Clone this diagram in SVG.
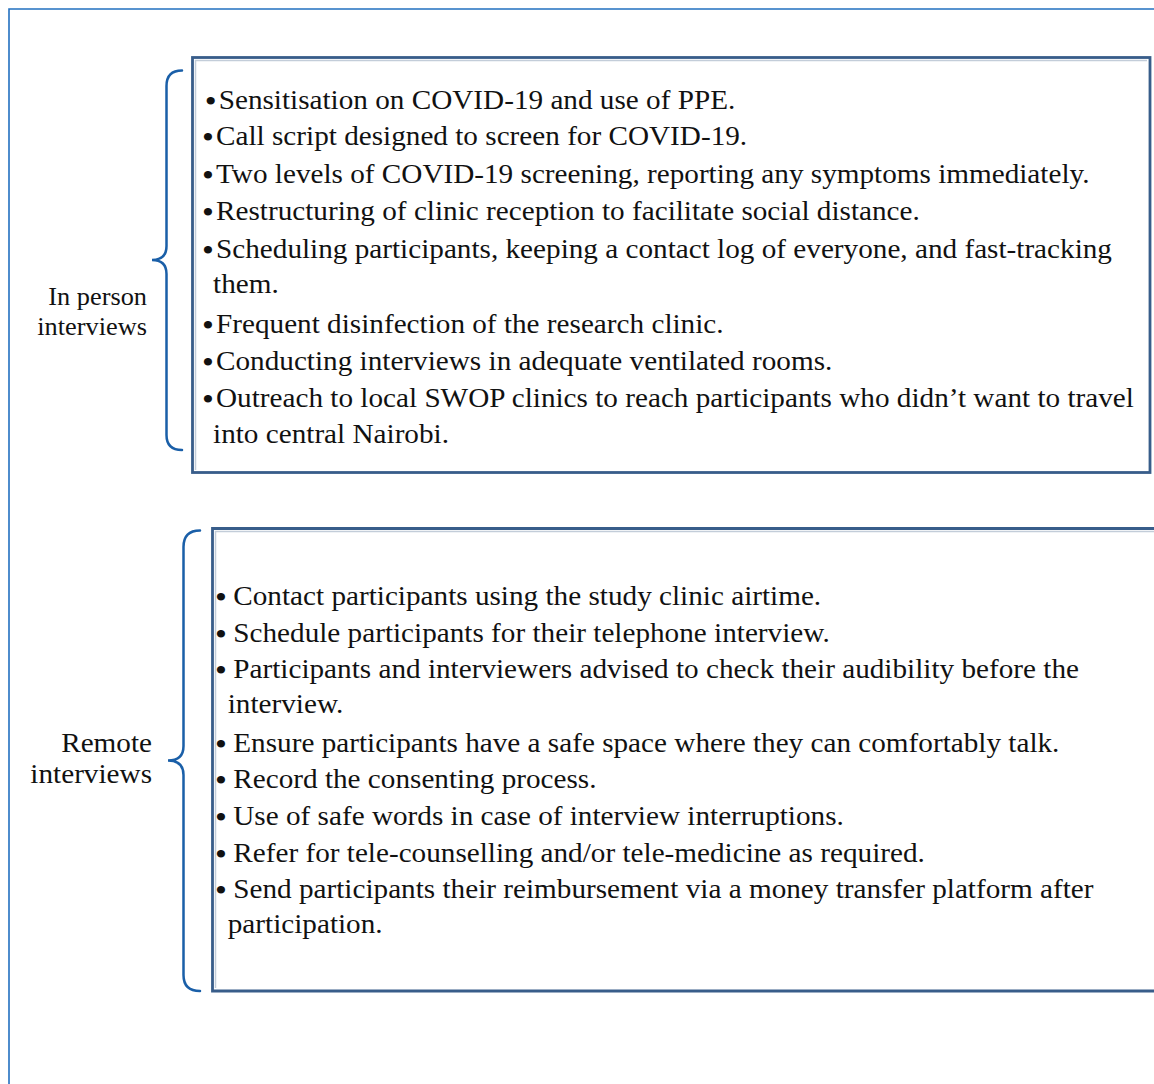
<svg xmlns="http://www.w3.org/2000/svg" width="1154" height="1084" viewBox="0 0 1154 1084">
<style>
.t{font-family:"Liberation Serif","Times New Roman",serif;font-size:27.5px;fill:#111}
.ts{font-family:"Liberation Serif","Times New Roman",serif;font-size:24.8px;fill:#111}
.b{font-size:32px}
.box{fill:#fff;stroke:#385d8a;stroke-width:2.8}
.inner{fill:none;stroke:#c3cdd9;stroke-width:1.5}
.brace{fill:none;stroke:#1a5fa8;stroke-width:2.5;stroke-linecap:round}
</style>
<rect width="1154" height="1084" fill="#fff"/>
<g id="frame">
<path d="M9 1084 V9 H1154" fill="none" stroke="#2270c0" stroke-width="1.6"/>
</g>
<g id="connectors">
<path class="brace" d="M182 70.5 Q166.5 70.5 166.5 86 L166.5 246 Q166.5 260 152 260 Q166.5 260 166.5 274 L166.5 435 Q166.5 450 182 450"/>
<path class="brace" d="M200 530.5 Q183.5 530.5 183.5 547 L183.5 746 Q183.5 760.5 168 760.5 Q183.5 760.5 183.5 775 L183.5 975 Q183.5 991 200 991"/>
</g>
<g id="in-person-label">
<g transform="translate(147,0) scale(1.062,1)">
<text class="ts" x="0" y="305" text-anchor="end">In person</text>
<text class="ts" x="0" y="335" text-anchor="end">interviews</text>
</g>
</g>
<g id="remote-label">
<g transform="translate(152,0) scale(1.062,1)">
<text class="t" x="0" y="752" text-anchor="end">Remote</text>
<text class="t" x="0" y="783" text-anchor="end">interviews</text>
</g>
</g>
<g id="in-person-box">
<rect class="box" x="192.5" y="57.5" width="957.5" height="415"/>
<path class="inner" d="M195.5 470 V60.5 H1147"/>
<g transform="translate(202,0) scale(1.062,1)">
<text class="t" x="2.5" y="109"><tspan class="b" dy="3">•</tspan><tspan dy="-3" dx="2">Sensitisation on COVID-19 and use of PPE.</tspan></text>
<text class="t" x="0" y="145"><tspan class="b" dy="3">•</tspan><tspan dy="-3" dx="2">Call script designed to screen for COVID-19.</tspan></text>
<text class="t" x="0" y="183"><tspan class="b" dy="3">•</tspan><tspan dy="-3" dx="2">Two levels of COVID-19 screening, reporting any symptoms immediately.</tspan></text>
<text class="t" x="0" y="220"><tspan class="b" dy="3">•</tspan><tspan dy="-3" dx="2">Restructuring of clinic reception to facilitate social distance.</tspan></text>
<text class="t" x="0" y="258"><tspan class="b" dy="3">•</tspan><tspan dy="-3" dx="2">Scheduling participants, keeping a contact log of everyone, and fast-tracking</tspan></text>
<text class="t" x="10.4" y="293">them.</text>
<text class="t" x="0" y="333"><tspan class="b" dy="3">•</tspan><tspan dy="-3" dx="2">Frequent disinfection of the research clinic.</tspan></text>
<text class="t" x="0" y="370"><tspan class="b" dy="3">•</tspan><tspan dy="-3" dx="2">Conducting interviews in adequate ventilated rooms.</tspan></text>
<text class="t" x="0" y="407"><tspan class="b" dy="3">•</tspan><tspan dy="-3" dx="2">Outreach to local SWOP clinics to reach participants who didn’t want to travel</tspan></text>
<text class="t" x="10.4" y="443">into central Nairobi.</text>
</g>
</g>
<g id="remote-box">
<path class="box" d="M1160 528.5 H212.5 V991 H1160"/>
<path class="inner" d="M215.5 988 V531.5 H1160"/>
<g transform="translate(215,0) scale(1.062,1)">
<text class="t" x="0" y="605"><tspan class="b" dy="3">•</tspan><tspan dy="-3" dx="6">Contact participants using the study clinic airtime.</tspan></text>
<text class="t" x="0" y="642"><tspan class="b" dy="3">•</tspan><tspan dy="-3" dx="6">Schedule participants for their telephone interview.</tspan></text>
<text class="t" x="0" y="678"><tspan class="b" dy="3">•</tspan><tspan dy="-3" dx="6">Participants and interviewers advised to check their audibility before the</tspan></text>
<text class="t" x="12" y="713">interview.</text>
<text class="t" x="0" y="752"><tspan class="b" dy="3">•</tspan><tspan dy="-3" dx="6">Ensure participants have a safe space where they can comfortably talk.</tspan></text>
<text class="t" x="0" y="788"><tspan class="b" dy="3">•</tspan><tspan dy="-3" dx="6">Record the consenting process.</tspan></text>
<text class="t" x="0" y="825"><tspan class="b" dy="3">•</tspan><tspan dy="-3" dx="6">Use of safe words in case of interview interruptions.</tspan></text>
<text class="t" x="0" y="862"><tspan class="b" dy="3">•</tspan><tspan dy="-3" dx="6">Refer for tele-counselling and/or tele-medicine as required.</tspan></text>
<text class="t" x="0" y="898"><tspan class="b" dy="3">•</tspan><tspan dy="-3" dx="6">Send participants their reimbursement via a money transfer platform after</tspan></text>
<text class="t" x="12" y="933">participation.</text>
</g>
</g>
</svg>
